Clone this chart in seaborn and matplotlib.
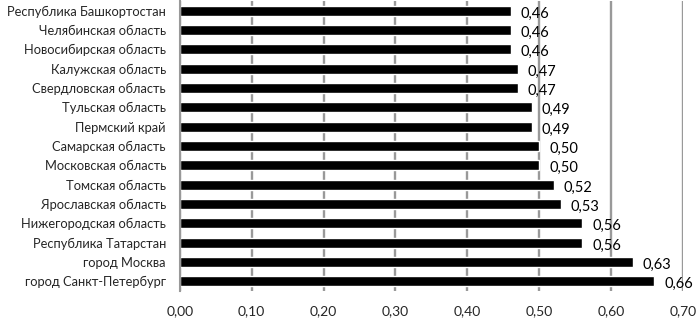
import numpy as np
import pandas as pd
import seaborn as sns
import matplotlib.pyplot as plt
from matplotlib.ticker import FixedLocator, FuncFormatter

regions = [
    'Республика Башкортостан',
    'Челябинская область',
    'Новосибирская область',
    'Калужская область',
    'Свердловская область',
    'Тульская область',
    'Пермский край',
    'Самарская область',
    'Московская область',
    'Томская область',
    'Ярославская область',
    'Нижегородская область',
    'Республика Татарстан',
    'город Москва',
    'город Санкт-Петербург',
]
values = [0.46, 0.46, 0.46, 0.47, 0.47, 0.49, 0.49, 0.50, 0.50,
          0.52, 0.53, 0.56, 0.56, 0.63, 0.66]
x_ticks = [0.0, 0.1, 0.2, 0.3, 0.4, 0.5, 0.6, 0.7]

df = pd.DataFrame({'region': regions, 'value': values})

sns.set_style('white')
plt.rcParams['font.family'] = ['Lato', 'DejaVu Sans']

fig = plt.figure(figsize=(6.97, 3.18), dpi=100)
ax = fig.add_axes([0.258, 0.085, 0.722, 0.912])

sns.barplot(data=df, x='value', y='region', orient='h', color='black',
            width=0.52, saturation=1, ax=ax)

# подписи значений справа от столбцов
for i, v in enumerate(values):
    ax.annotate(f'{v:.2f}'.replace('.', ','), (v, i), xytext=(7, -2),
                textcoords='offset points', ha='left', va='center',
                fontsize=10.5, color='black')

ax.set_xlim(0, 0.7)
ax.set_ylim(len(regions) - 0.5, -0.5)
ax.xaxis.set_major_locator(FixedLocator(x_ticks))
ax.xaxis.set_major_formatter(FuncFormatter(lambda x, p: f'{x:.2f}'.replace('.', ',')))
ax.grid(axis='x', color='#999999', linewidth=1.7)
ax.set_axisbelow(True)

for s in ['top', 'right', 'bottom']:
    ax.spines[s].set_visible(False)
ax.spines['left'].set_color('#999999')
ax.spines['left'].set_linewidth(1.5)

ax.set_yticks(np.arange(len(regions) + 1) - 0.5, minor=True)
ax.tick_params(axis='y', which='major', length=0, pad=10, labelsize=9.3)
ax.tick_params(axis='y', which='minor', length=3, color='#999999', width=1)
ax.tick_params(axis='x', length=4, color='#999999', width=1, pad=6, labelsize=10)
ax.set_xlabel('')
ax.set_ylabel('')

fig.savefig('out.png', dpi=100)
